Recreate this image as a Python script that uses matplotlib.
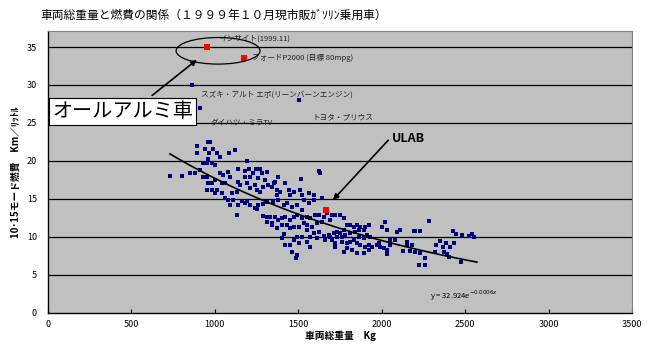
import matplotlib
matplotlib.use("Agg")
import matplotlib.pyplot as plt
import numpy as np
from matplotlib.patches import Ellipse

plt.rcParams['font.family'] = ['Noto Sans CJK JP', 'DejaVu Sans']

# ---- data (vehicle gross weight kg, 10-15 mode fuel economy km/L) ----
cars_x = [961, 971, 891, 941, 991, 891, 967, 1011, 1031, 1087, 1121, 931, 951, 981, 1001, 961,
          731, 801, 851, 881, 911, 931, 951, 961, 981, 1001, 1031, 1051, 1081, 1091, 1041, 1061,
          1011, 981, 951, 1001, 1041, 1101, 1131, 1195, 1141, 1181, 1207, 1231, 1247, 1271, 1281,
          1315, 1261, 1301, 1211, 1181, 1141, 1151, 1191, 1211, 1241, 1251, 1271, 1291, 1321, 1341,
          1361, 1381, 1355, 1371, 1371, 1391, 1421, 1441, 1451, 1471, 1515, 1511, 1521, 1561, 1591,
          1621, 1631, 1641, 1591, 1561, 1531, 1521, 1491, 1461, 1431, 1411, 1381, 1351, 1311, 1291,
          1261, 1241, 1211, 1181, 1141, 1111, 1091, 1081, 1061, 1131, 1161, 1191, 1251, 1291, 1311,
          1331, 1361, 1381, 1341, 1401, 1421, 1451, 1471, 1491, 1521, 1551, 1571, 1601, 1621, 1651,
          1671, 1701, 1721, 1751, 1771, 1691, 1611, 1641, 1581, 1551, 1531, 1501, 1471, 1451, 1431,
          1401, 1371, 1341, 1311, 1551, 1591, 1621, 1651, 1681, 1711, 1731, 1751, 1771, 1791, 1811,
          1831, 1851, 1871, 1901, 1921, 1891, 1861, 1841, 1811, 1781, 1761, 1731, 1701, 1691, 1761,
          1791, 1811, 1831, 1851, 1871, 1901, 1921, 1941, 1971, 1991, 2011, 2031, 2051, 2031, 1981,
          1931, 1911, 1891, 1861, 2001, 2021, 2031, 2091, 2081, 2051, 2111, 1821, 1851, 1891, 1921,
          1771, 1791, 1721, 1721, 1661, 1611, 1571, 1521, 1491, 1501, 1421, 1451, 1461, 1491, 1487,
          1411, 1401, 1471, 1551, 1571,
          2280, 2190, 2200, 2226, 2424, 2444, 2480, 2480, 2520, 2540, 2554, 2150, 2150, 2180, 2130,
          2170, 2200, 2226, 2326, 2350, 2366, 2386, 2406, 2434, 2320, 2370, 2390, 2400, 2260, 2220,
          2260, 2474,
          861, 911, 1502]
cars_y = [22.5, 22.5, 21.97, 21.54, 21.54, 21.0, 21.0, 21.0, 20.48, 21.0, 21.45, 19.69, 19.69, 19.69,
          19.47, 20.22, 18.03, 18.03, 18.38, 18.38, 18.82, 17.94, 17.94, 17.06, 17.06, 17.5, 18.38,
          18.16, 18.6, 17.94, 17.06, 17.06, 16.18, 16.18, 16.18, 15.75, 15.75, 15.75, 15.97, 20.0,
          18.9, 18.73, 18.9, 18.47, 18.99, 18.99, 18.47, 18.6, 17.72, 17.5, 17.94, 17.94, 17.28,
          16.84, 17.06, 16.4, 16.84, 16.18, 15.97, 16.54, 16.84, 16.62, 17.28, 17.94, 17.06, 16.18,
          15.53, 15.97, 17.15, 16.18, 15.53, 15.97, 17.59, 16.18, 15.53, 15.75, 15.53, 18.73, 18.47,
          15.18, 14.87, 14.43, 14.87, 13.55, 14.21, 13.99, 14.52, 14.21, 14.87, 14.65, 14.65, 14.34,
          14.21, 13.77, 14.21, 14.43, 14.21, 14.87, 14.21, 14.87, 15.09, 12.89, 14.78, 14.78, 13.64,
          12.76, 12.59, 12.59, 12.59, 12.24, 11.8, 12.46, 12.68, 12.24, 12.59, 12.89, 12.46, 12.68,
          12.46, 12.89, 12.89, 12.59, 13.11, 12.89, 12.89, 12.89, 12.46, 12.24, 11.8, 12.02, 11.36,
          11.58, 11.8, 11.36, 11.36, 11.14, 11.58, 11.58, 11.14, 11.58, 12.02, 10.92, 10.48, 10.7,
          10.13, 10.26, 10.48, 10.7, 10.48, 10.92, 11.58, 11.58, 11.36, 11.58, 11.36, 11.36, 11.58,
          10.92, 10.92, 10.7, 10.48, 10.26, 10.04, 9.95, 9.6, 10.04, 9.38, 9.16, 9.38, 9.6, 9.16,
          8.94, 8.72, 8.94, 8.72, 8.94, 8.72, 8.5, 8.28, 8.94, 7.76, 9.16, 10.04, 10.26, 9.82, 10.04,
          11.36, 12.02, 10.92, 10.7, 9.6, 9.6, 10.92, 8.28, 7.94, 7.94, 8.28, 8.07, 8.5, 9.16, 8.72,
          9.6, 9.82, 10.04, 9.95, 10.04, 9.16, 8.94, 8.94, 8.07, 7.63, 7.19, 10.39, 9.82, 9.6, 9.38,
          8.72,
          12.15, 10.75, 10.75, 10.75, 10.75, 10.4, 10.31, 10.13, 10.18, 10.35, 9.96, 9.39, 8.95,
          8.95, 8.16, 8.16, 8.07, 7.85, 8.95, 9.48, 8.73, 9.17, 8.73, 9.26, 7.98, 7.98, 7.72, 7.41,
          7.19, 6.32, 6.32, 6.76,
          30.0, 27.0, 28.0]

special_names = ['インサイト', 'フォードP2000', 'ULAB']
special_x = [951, 1176, 1667]
special_y = [34.96, 33.6, 13.6]

fit_a, fit_b = 32.924, -0.00062
fit_x_range = [731, 2570]

label_texts = ['インサイト(1999.11)', 'フォードP2000 (目標 80mpg)',
               'スズキ・アルト エポ(リーンバーンエンジン)', 'トヨタ・プリウス', 'ダイハツ・ミラTV']
label_x = [1025, 1223, 917, 1582, 971]
label_y = [36.05, 33.6, 28.7, 25.8, 24.95]

x_ticks = [0, 500, 1000, 1500, 2000, 2500, 3000, 3500]
y_ticks = [0, 5, 10, 15, 20, 25, 30, 35]

# ---- figure ----
fig = plt.figure(figsize=(6.49, 3.45), dpi=100)
ax = fig.add_axes([0.074, 0.093, 0.900, 0.817])
ax.set_facecolor('#C0C0C0')
ax.set_xlim(0, 3500)
ax.set_ylim(0, 37.1)

for yt in y_ticks[1:]:
    ax.axhline(yt, color='black', lw=0.9, zorder=1)

ax.scatter(cars_x, cars_y, marker='s', s=7, color='#000080', linewidths=0, zorder=3)

fx = np.linspace(fit_x_range[0], fit_x_range[1], 100)
ax.plot(fx, fit_a * np.exp(fit_b * fx), color='black', lw=1.2, zorder=4)

ax.scatter(special_x, special_y, marker='s', s=14, color='#FF0000', linewidths=0, zorder=5)

for t, x, y in zip(label_texts, label_x, label_y):
    ax.text(x, y, t, fontsize=5.5, va='center', ha='left', color='#222222', zorder=6)

ax.add_patch(Ellipse((1019, 34.5), 503, 3.5, fill=False, edgecolor='black', lw=0.9, zorder=6))

ax.text(25, 26.5, 'オールアルミ車', fontsize=14.5, va='center', ha='left', zorder=8,
        bbox=dict(boxstyle='square,pad=0.15', facecolor='white', edgecolor='black', lw=0.8),
        clip_on=False)
ax.annotate('', xy=(905, 33.55), xytext=(611, 28.4),
            arrowprops=dict(arrowstyle='-|>', color='black', lw=1.2, mutation_scale=8), zorder=7)

ax.text(2062, 23.0, 'ULAB', fontsize=9, fontweight='bold', va='center', ha='left', zorder=7)
ax.annotate('', xy=(1696, 14.6), xytext=(2050, 23.0),
            arrowprops=dict(arrowstyle='-|>', color='black', lw=1.2, mutation_scale=8), zorder=7)

ax.text(2289, 2.2, 'y = 32.924e$^{-0.0006x}$', fontsize=5.5, va='center', ha='left', zorder=7)

ax.set_xticks(x_ticks)
ax.set_yticks(y_ticks)
ax.tick_params(axis='x', direction='in', length=3, labelsize=6.5, pad=5)
ax.tick_params(axis='y', direction='out', length=0, labelsize=6.5, pad=8)
for s in ['top', 'right']:
    ax.spines[s].set_color('#808080')
for s in ['left', 'bottom']:
    ax.spines[s].set_color('black')
    ax.spines[s].set_linewidth(1.0)

ax.set_xlabel('車両総重量　Kg', fontsize=7, fontweight='bold', labelpad=1)
ax.set_ylabel('10･15モード燃費　Km／ﾘｯﾄﾙ', fontsize=7, fontweight='bold', labelpad=4)

fig.text(0.062, 0.955, '車両総重量と燃費の関係（１９９９年１０月現市販ｶﾞｿﾘﾝ乗用車）',
         fontsize=8.5, va='center', ha='left')

fig.savefig('out.png', dpi=100, facecolor='white')
